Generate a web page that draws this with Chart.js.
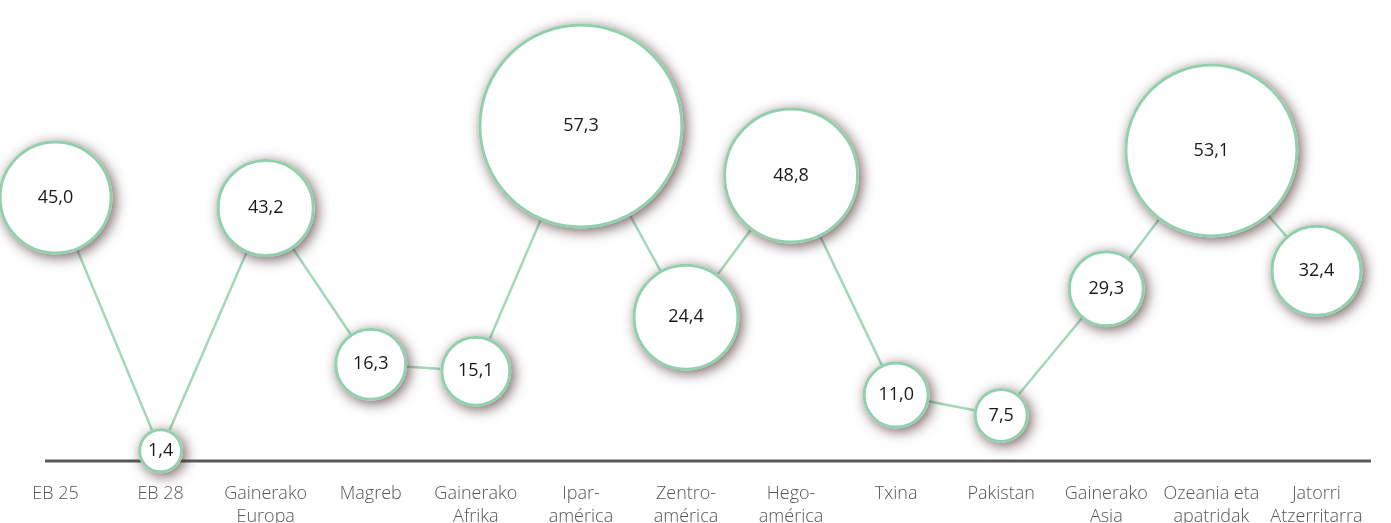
<!DOCTYPE html>
<html>
<head>
<meta charset="utf-8">
<script src="https://cdn.jsdelivr.net/npm/chart.js@4.4.1/dist/chart.umd.min.js"></script>
<style>
  html, body { margin: 0; padding: 0; background: #ffffff; }
  #wrap { position: relative; width: 1391px; height: 523px; }
</style>
</head>
<body>
<div id="wrap"><canvas id="c" width="1391" height="523"></canvas></div>
<script>
// Categories (multi-line tick labels)
const categories = [
  ['EB 25'], ['EB 28'], ['Gainerako', 'Europa'], ['Magreb'], ['Gainerako', 'Afrika'],
  ['Ipar-', 'américa'], ['Zentro-', 'américa'], ['Hego-', 'américa'], ['Txina'],
  ['Pakistan'], ['Gainerako', 'Asia'], ['Ozeania eta', 'apatridak'], ['Jatorri', 'Atzerritarra']
];
// Series values (y)
const values = [45.0, 1.4, 43.2, 16.3, 15.1, 57.3, 24.4, 48.8, 11.0, 7.5, 29.3, 53.1, 32.4];
// Bubble size series (area-proportional)
const bubbleSize = [30.8, 4.41, 22.6, 12.25, 11.56, 102, 27.0, 44.2, 10.24, 6.76, 13.7, 73.1, 19.8];

const green = '#92d0ad';
const lineGreen = '#a3d7ba';

const bubbleData = values.map((v, i) => ({ x: i, y: v, r: 10 * Math.sqrt(bubbleSize[i]) }));
const lineData = values.map((v, i) => ({ x: i, y: v }));

const axisLinePlugin = {
  id: 'axisLine',
  beforeDatasetsDraw(chart) {
    const ctx = chart.ctx;
    const y = chart.scales.y.getPixelForValue(0) + 2;
    ctx.save();
    ctx.strokeStyle = '#5a5a5a';
    ctx.lineWidth = 3;
    ctx.beginPath();
    ctx.moveTo(45, y);
    ctx.lineTo(1371, y);
    ctx.stroke();
    ctx.restore();
  }
};

const shadowPlugin = {
  id: 'bubbleShadow',
  beforeDatasetDraw(chart, args) {
    if (args.index !== 1) return;
    const ctx = chart.ctx;
    const meta = chart.getDatasetMeta(1);
    meta.data.forEach(el => {
      const r = el.options.radius + 1.5;
      ctx.save();
      ctx.shadowColor = 'rgba(75, 45, 45, 0.75)';
      ctx.shadowBlur = 13;
      ctx.shadowOffsetX = 3;
      ctx.shadowOffsetY = 3;
      ctx.fillStyle = '#ffffff';
      ctx.beginPath();
      ctx.arc(el.x, el.y, r, 0, Math.PI * 2);
      ctx.fill();
      ctx.restore();
    });
  },
  afterDatasetsDraw(chart) {
    const ctx = chart.ctx;
    const meta = chart.getDatasetMeta(1);
    ctx.save();
    ctx.fillStyle = '#1a1a1a';
    ctx.font = '400 18px "Open Sans", "DejaVu Sans", sans-serif';
    ctx.textAlign = 'center';
    ctx.textBaseline = 'middle';
    meta.data.forEach((el, i) => {
      ctx.fillText(values[i].toFixed(1).replace('.', ','), el.x, el.y);
    });
    ctx.restore();
  }
};

new Chart(document.getElementById('c'), {
  type: 'bubble',
  data: {
    labels: categories,
    datasets: [
      {
        type: 'line',
        data: lineData,
        borderColor: lineGreen,
        borderWidth: 2.5,
        pointRadius: 0,
        fill: false,
        tension: 0,
        clip: false,
        order: 2
      },
      {
        type: 'bubble',
        data: bubbleData,
        backgroundColor: '#ffffff',
        borderColor: green,
        borderWidth: 3,
        clip: false,
        order: 1
      }
    ]
  },
  options: {
    responsive: false,
    animation: false,
    events: [],
    layout: { autoPadding: false, padding: { left: 3, right: 22, top: 0, bottom: -29 } },
    plugins: { legend: { display: false }, tooltip: { enabled: false } },
    scales: {
      x: {
        type: 'category',
        offset: true,
        grid: { display: false, drawTicks: false },
        border: { display: false },
        ticks: {
          autoSkip: false,
          maxRotation: 0,
          minRotation: 0,
          padding: 24,
          color: '#555555',
          font: { family: '"Open Sans", "DejaVu Sans", sans-serif', size: 18, weight: '300', lineHeight: 1.25 }
        }
      },
      y: {
        display: false,
        min: 0,
        max: 79
      }
    }
  },
  plugins: [axisLinePlugin, shadowPlugin]
});
</script>
</body>
</html>
